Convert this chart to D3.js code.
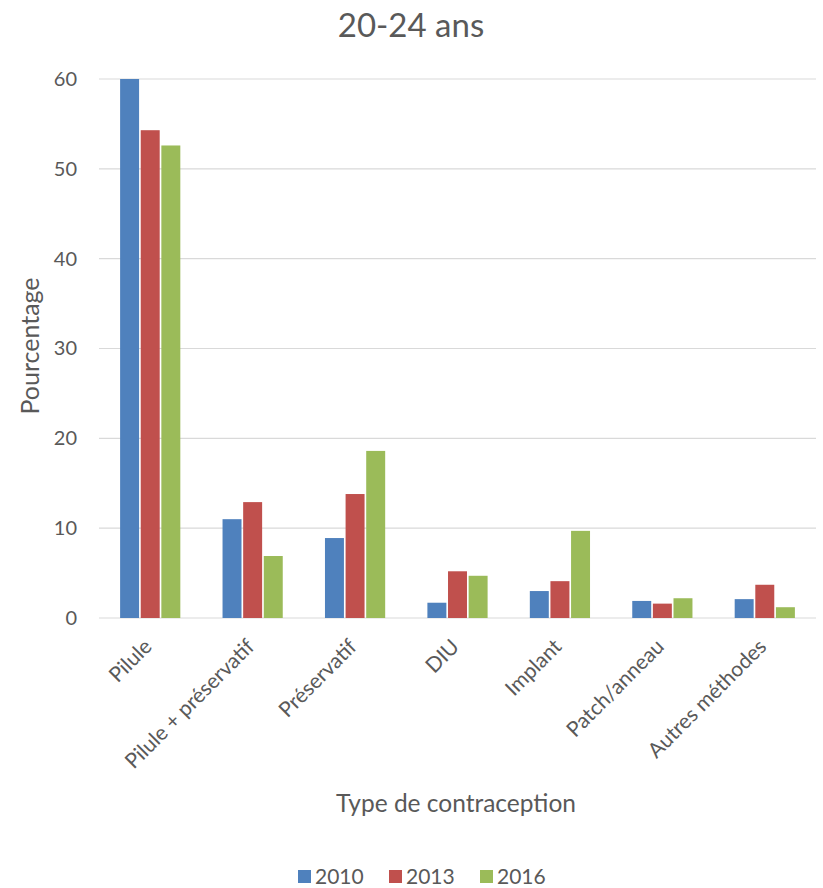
<svg id="chart"/>

<script src="https://cdnjs.cloudflare.com/ajax/libs/d3/7.8.5/d3.min.js"></script>
<script>
  // chart values
  var categories = ['Pilule', 'Pilule + préservatif', 'Préservatif', 'DIU', 'Implant', 'Patch/anneau', 'Autres méthodes'];
  var years      = ['2010', '2013', '2016'];
  var colors     = ['#4f81bd', '#c0504d', '#9bbb59'];
  var v2010      = [60.0, 11.0, 8.9, 1.7, 3.0, 1.9, 2.1];
  var v2013      = [54.3, 12.9, 13.8, 5.2, 4.1, 1.6, 3.7];
  var v2016      = [52.6, 6.9, 18.6, 4.7, 9.7, 2.2, 1.2];
  var yTicks     = [0, 10, 20, 30, 40, 50, 60];

  var series = [v2010, v2013, v2016];

  var width      = 823,
      height     = 888,
      plotLeft   = 99,
      plotRight  = 816,
      plotTop    = 79,
      plotBottom = 618,
      font       = 'Lato, "Open Sans", sans-serif',
      grey       = '#595959';

  var svg = d3.select('#chart')
              .attr('width', width)
              .attr('height', height)
              .style('font-family', font);

  d3.select('body').style('margin', 0).style('background', '#fff');

  var x0 = d3.scaleBand().domain(categories).range([plotLeft, plotRight]).paddingInner(0.38).paddingOuter(0.19);
  var x1 = d3.scaleBand().domain(years).range([0, x0.bandwidth()]).padding(0.08);
  var y  = d3.scaleLinear().domain([0, 60]).range([plotBottom, plotTop]);

  // gridlines
  svg.append('g').selectAll('line')
     .data(yTicks)
     .enter().append('line')
     .attr('x1', plotLeft).attr('x2', plotRight)
     .attr('y1', function(d) { return y(d); })
     .attr('y2', function(d) { return y(d); })
     .attr('stroke', '#d9d9d9')
     .attr('stroke-width', 1.2);

  // y axis labels
  var yAxis = d3.axisLeft(y).tickValues(yTicks).tickSize(0).tickPadding(22);
  var gy = svg.append('g').attr('transform', 'translate(' + plotLeft + ',0)').call(yAxis);
  gy.select('.domain').remove();
  gy.selectAll('text').attr('fill', grey).style('font-size', '20px').style('font-family', font);

  // bars
  var groups = svg.append('g').selectAll('g')
     .data(categories)
     .enter().append('g')
     .attr('transform', function(d) { return 'translate(' + x0(d) + ',0)'; });

  groups.selectAll('rect')
     .data(function(d, i) { return years.map(function(yr, j) { return { year: yr, value: series[j][i], k: j }; }); })
     .enter().append('rect')
     .attr('x', function(d) { return x1(d.year); })
     .attr('width', x1.bandwidth())
     .attr('y', function(d) { return y(d.value); })
     .attr('height', function(d) { return y(0) - y(d.value); })
     .attr('fill', function(d) { return colors[d.k]; });

  // x axis labels, rotated
  var xAxis = d3.axisBottom(x0).tickSize(0).tickPadding(0);
  var gx = svg.append('g').attr('transform', 'translate(0,' + plotBottom + ')').call(xAxis);
  gx.select('.domain').remove();
  gx.selectAll('text')
    .attr('fill', grey)
    .style('font-size', '21px')
    .style('font-family', font)
    .attr('text-anchor', 'end')
    .attr('dy', 0)
    .attr('transform', 'translate(3,30) rotate(-45)');

  // titles
  svg.append('text')
     .attr('x', 411).attr('y', 37)
     .attr('text-anchor', 'middle')
     .attr('fill', grey)
     .style('font-size', '33px')
     .text('20-24 ans');

  svg.append('text')
     .attr('transform', 'translate(39,' + 346 + ') rotate(-90)')
     .attr('text-anchor', 'middle')
     .attr('fill', grey)
     .style('font-size', '25px')
     .text('Pourcentage');

  svg.append('text')
     .attr('x', 456).attr('y', 812)
     .attr('text-anchor', 'middle')
     .attr('fill', grey)
     .style('font-size', '24.5px')
     .text('Type de contraception');

  // legend
  var legendX = [298, 389, 480];
  var legend = svg.append('g').selectAll('g')
     .data(years)
     .enter().append('g')
     .attr('transform', function(d, i) { return 'translate(' + legendX[i] + ',870)'; });

  legend.append('rect')
     .attr('width', 13).attr('height', 13)
     .attr('fill', function(d, i) { return colors[i]; });

  legend.append('text')
     .attr('x', 17).attr('y', 14)
     .attr('fill', grey)
     .style('font-size', '21px')
     .text(function(d) { return d; });
</script>
